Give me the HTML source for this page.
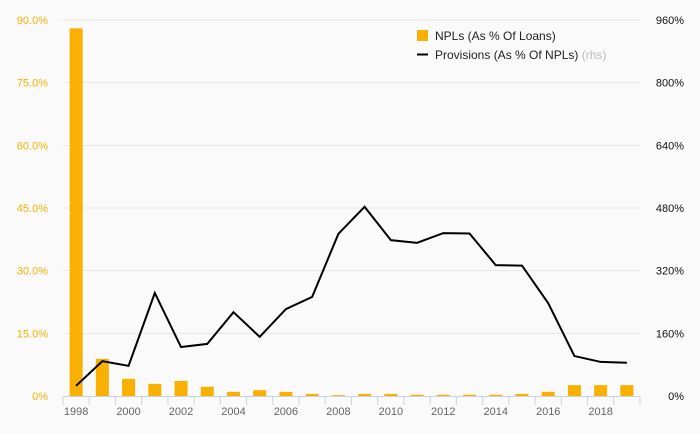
<!DOCTYPE html>
<html><head><meta charset="utf-8"><style>
body{margin:0;background:#fafafa;}
svg{display:block;font-family:"Liberation Sans",sans-serif;}
</style></head><body>
<svg width="700" height="433" id="chart"></svg>
<script>
const years=[1998,1999,2000,2001,2002,2003,2004,2005,2006,2007,2008,2009,2010,2011,2012,2013,2014,2015,2016,2017,2018,2019];
const npl=[88,8.9,4.1,2.9,3.6,2.2,1.0,1.4,1.0,0.5,0.2,0.5,0.5,0.3,0.3,0.3,0.3,0.5,1.0,2.6,2.6,2.6];
const prov=[26,89,77,263,125,133,214,151,222,253,414,483,398,391,416,415,334,333,237,102,87,85];
const leftTicks=[0,15,30,45,60,75,90];
const leftLabels=["0%","15.0%","30.0%","45.0%","60.0%","75.0%","90.0%"];
const rightTicks=[0,160,320,480,640,800,960];
const rightLabels=["0%","160%","320%","480%","640%","800%","960%"];
const xLabelYears=[1998,2000,2002,2004,2006,2008,2010,2012,2014,2016,2018];

const svg=document.getElementById('chart');
const NS='http://www.w3.org/2000/svg';
const L=63,R=640,T=20,B=396;
const step=(R-L)/years.length;
const x=i=>L+step*(i+0.5);
const yL=v=>B-(v/90)*(B-T);
const yR=v=>B-(v/960)*(B-T);
function mk(tag,attrs){const e=document.createElementNS(NS,tag);for(const k in attrs)e.setAttribute(k,attrs[k]);svg.appendChild(e);return e;}

leftTicks.forEach((v,i)=>{
  if(v>0){const g=mk('line',{x1:L,x2:R,y1:yL(v),y2:yL(v),stroke:'#e6e6e6','stroke-width':1});
  
  }
  const t=mk('text',{x:48,y:yL(v)+4,'text-anchor':'end','font-size':11,fill:'#f7b000'});
  t.textContent=leftLabels[i];
  
  
});
rightTicks.forEach((v,i)=>{
  const t=mk('text',{x:684,y:yR(v)+4,'text-anchor':'end','font-size':11,fill:'#111'});
  t.textContent=rightLabels[i];
  
  
});
npl.forEach((v,i)=>{
  const r=mk('rect',{x:x(i)-6.5,y:yL(v),width:13,height:B-yL(v),fill:'#f9b000'});
  
  
});
const ax=mk('line',{x1:L,x2:R,y1:B+0.5,y2:B+0.5,stroke:'#c8d4e6','stroke-width':1});


for(let i=0;i<=years.length;i++){
  const tk=mk('line',{x1:L+step*i,x2:L+step*i,y1:B,y2:B+9,stroke:'#c8d4e6','stroke-width':1});
  
  
}
xLabelYears.forEach(yr=>{
  const i=years.indexOf(yr);
  const t=mk('text',{x:x(i),y:415,'text-anchor':'middle','font-size':11,fill:'#666'});
  t.textContent=yr;
  
  
});
const p=mk('polyline',{points:prov.map((v,i)=>x(i)+','+yR(v)).join(' '),fill:'none',stroke:'#000','stroke-width':2,'stroke-linejoin':'miter'});


</script>
<svg style="position:absolute;left:0;top:0" width="700" height="433">
  <rect x="417" y="30" width="11" height="11" fill="#f9b000"/>
  <text x="435" y="40" font-size="12" fill="#222" font-family="Liberation Sans, sans-serif">NPLs (As % Of Loans)</text>
  <line x1="417" y1="54.5" x2="428" y2="54.5" stroke="#000" stroke-width="2"/>
  <text x="435" y="59" font-size="12" fill="#222" font-family="Liberation Sans, sans-serif">Provisions (As % Of NPLs) <tspan fill="#bbb">(rhs)</tspan></text>
</svg>
</body></html>
